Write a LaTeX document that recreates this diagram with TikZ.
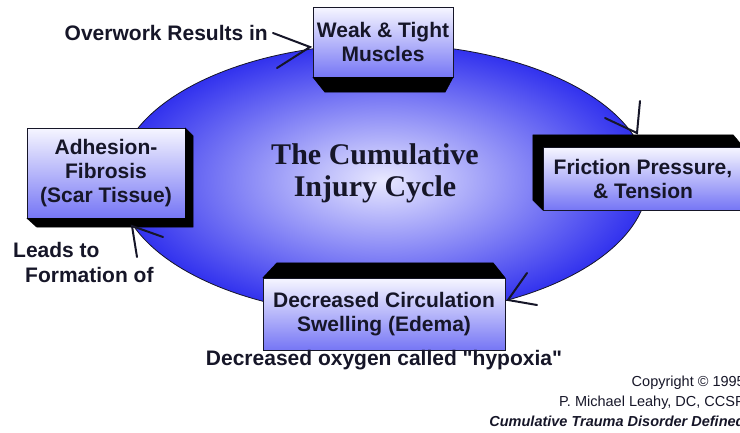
\documentclass[tikz,border=0pt]{standalone}
\usepackage{fontspec}
\setmainfont{Liberation Sans}[Ligatures=TeXOff]
\newfontfamily\titlefont{Liberation Serif}
\usepackage{tikz}

\definecolor{ringblue}{RGB}{50,50,238}
\definecolor{ringlight}{RGB}{232,232,255}
\definecolor{boxtop}{RGB}{246,246,255}
\definecolor{boxbot}{RGB}{118,118,245}
\definecolor{ink}{RGB}{22,22,40}

\begin{document}
\begin{tikzpicture}[x=1pt, y=-1pt,
    cyclebox/.style={draw=ink, thin, top color=boxtop, bottom color=boxbot, align=center, inner sep=0pt, text=ink, font=\fontsize{21}{24}\selectfont\bfseries},
    extrude/.style={fill=black, draw=black, line join=round},
    barb/.style={draw=ink, line width=2pt, line cap=round},
    note/.style={text=ink, font=\fontsize{21}{25}\selectfont\bfseries, inner sep=0pt}
]
  \useasboundingbox (0,0) rectangle (740,432);
  \clip (0,0) rectangle (740,432);
  \shade[inner color=ringlight, outer color=ringblue, draw=ink, thick] (383,180) ellipse [x radius=265pt, y radius=136pt];
  \node[font=\titlefont\fontsize{30}{32}\selectfont\bfseries, text=ink, align=center] (title) at (375,173) {The Cumulative\\Injury Cycle};

  \node[cyclebox, minimum width=140pt, minimum height=70pt] (weak) at (383,42) {Weak \& Tight\\Muscles};
  \node[cyclebox, minimum width=200pt, minimum height=63pt] (friction) at (643,178.5) {Friction Pressure,\\\& Tension};
  \node[cyclebox, minimum width=242pt, minimum height=72pt] (circ) at (384,314) {Decreased Circulation\\Swelling (Edema)};
  \node[cyclebox, minimum width=158pt, minimum height=90pt] (scar) at (106,173) {Adhesion-\\Fibrosis\\(Scar Tissue)};

  \fill[extrude] (weak.south west) -- ++(12,15) -- ([shift={(-8,15)}]weak.south east) -- (weak.south east) -- cycle;
  \fill[extrude] (friction.south west) -- ++(-10,-10) -- ([shift={(-10,-12)}]friction.north west) -- ([shift={(-10,-12)}]friction.north east) -- (friction.north east) -- (friction.north west) -- cycle;
  \fill[extrude] (circ.north west) -- ++(14,-15) -- ([shift={(-12,-15)}]circ.north east) -- (circ.north east) -- cycle;
  \fill[extrude] (scar.north east) -- ++(8,8) -- ([shift={(8,9)}]scar.south east) -- ([shift={(10,9)}]scar.south west) -- (scar.south west) -- (scar.south east) -- cycle;

  \node[note, anchor=east] (overwork) at (268,33) {Overwork Results in};
  \node[note, anchor=west] (leads) at (13,250) {Leads to};
  \node[note, anchor=west] (formation) at (25,275) {Formation of};
  \node[note] (hypoxia) at (384,360) {Decreased oxygen called "hypoxia"};
  \node[text=ink, font=\fontsize{14.5}{20}\selectfont, align=right, inner sep=0pt, anchor=north east] (copy) at (745,376) {Copyright © 1995\\P. Michael Leahy, DC, CCSP\\\textbf{\textit{Cumulative Trauma Disorder Defined}}};

  \coordinate (weaktip) at (310,47);
  \coordinate (weakbarb) at (277,68);
  \coordinate (frtip) at (637,133);
  \coordinate (frA) at (640,101);
  \coordinate (frB) at (605,118);
  \coordinate (circtip) at (508,300);
  \coordinate (circA) at (527,273);
  \coordinate (circB) at (537,305);
  \coordinate (scartip) at (132,226);
  \coordinate (scarA) at (163,237);
  \coordinate (scarB) at (137,257);

  \draw[barb] ([xshift=5pt]overwork.east) -- (weaktip) -- (weakbarb);
  \draw[barb] (frA) -- (frtip) -- (frB);
  \draw[barb] (circA) -- (circtip) -- (circB);
  \draw[barb] (scarA) -- (scartip) -- (scarB);
\end{tikzpicture}
\end{document}
